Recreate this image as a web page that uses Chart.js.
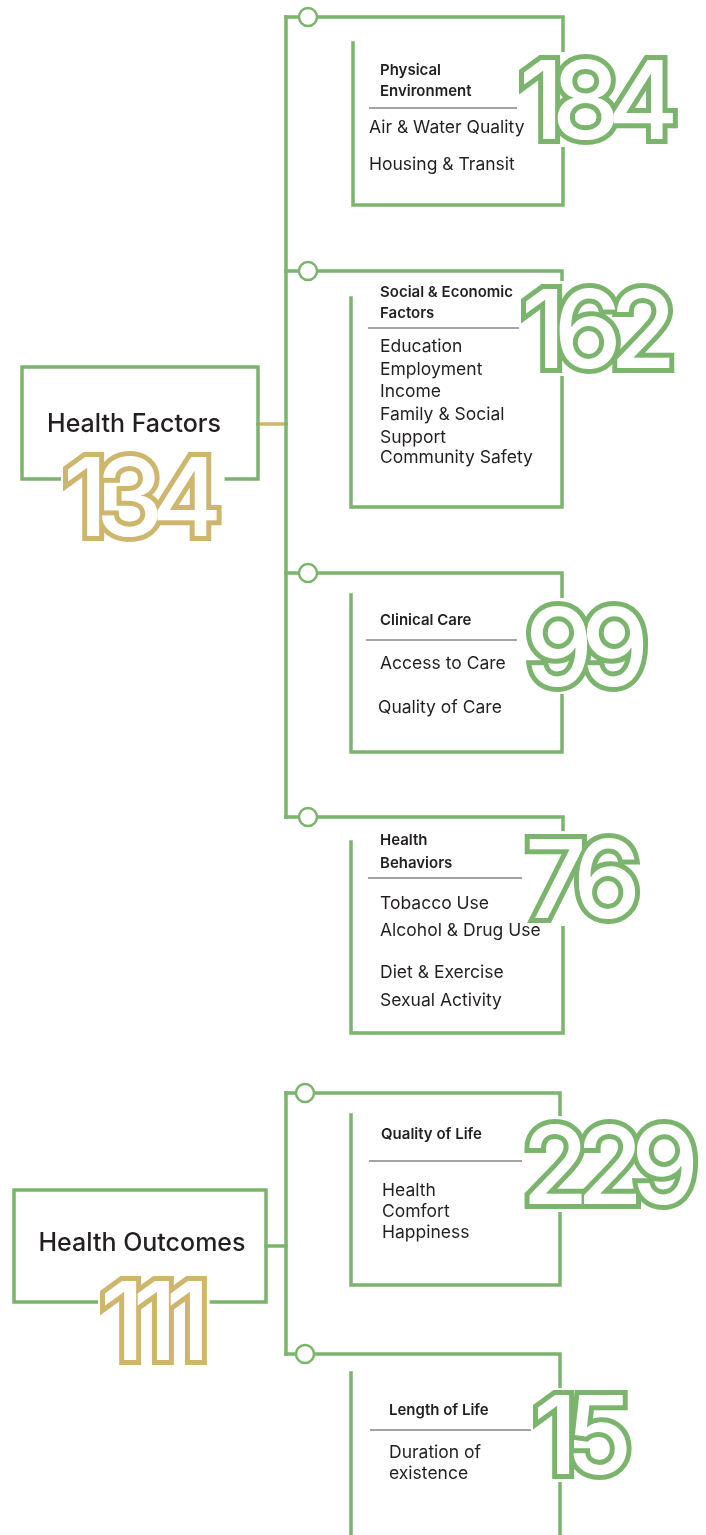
<!DOCTYPE html>
<html>
<head>
<meta charset="utf-8">
<script src="https://cdn.jsdelivr.net/npm/chart.js@4.4.1/dist/chart.umd.min.js"></script>
<style>
  html, body { margin: 0; padding: 0; background: #fff; }
  #wrap { width: 706px; height: 1535px; }
</style>
</head>
<body>
<div id="wrap"><canvas id="infographic" width="706" height="1535"></canvas></div>
<script>
// data
const groupNames = ['Health Factors', 'Health Outcomes'];
const groupCounts = [134, 111];

const categories = [
    ['Physical', 'Environment'],
    ['Social & Economic', 'Factors'],
    ['Clinical Care'],
    ['Health', 'Behaviors'],
    ['Quality of Life'],
    ['Length of Life']
];
const categoryCounts = [184, 162, 99, 76, 229, 15];
const subItems = [
    ['Air & Water Quality', 'Housing & Transit'],
    ['Education', 'Employment', 'Income', 'Family & Social', 'Support', 'Community Safety'],
    ['Access to Care', 'Quality of Care'],
    ['Tobacco Use', 'Alcohol & Drug Use', 'Diet & Exercise', 'Sexual Activity'],
    ['Health', 'Comfort', 'Happiness'],
    ['Duration of', 'existence']
];

// layout (page units = pixels of the 706 x 1535 sheet)
const GREEN = '#7bb46c';
const GOLD = '#cfb66d';
const INK = '#231f20';
const trunkX = 286;
const trunks = [[17, 817], [1093, 1354]];

const boxLayout = [
    { node: [308, 17], top: 17, right: 563, bottom: 205, left: 353, leftTop: 43, titleX: 380, titleY: [70, 91], divY: 108, divX: [369, 527], itemX: [369, 369], itemY: [128, 165], numX: 519, numY: 139 },
    { node: [308, 271], top: 271, right: 562, bottom: 507, left: 351, leftTop: 298, titleX: 380, titleY: [292, 313], divY: 328, divX: [368, 533], itemX: [380, 380, 380, 380, 380, 380], itemY: [347, 370, 392, 415, 438, 458], numX: 521, numY: 368 },
    { node: [308, 573], top: 573, right: 562, bottom: 752, left: 351, leftTop: 595, titleX: 380, titleY: [620], divY: 640, divX: [366, 517], itemX: [380, 378], itemY: [664, 708], numX: 525, numY: 686 },
    { node: [308, 817], top: 817, right: 563, bottom: 1033, left: 351, leftTop: 842, titleX: 380, titleY: [840, 863], divY: 878, divX: [368, 533], itemX: [380, 380, 380, 380], itemY: [904, 931, 973, 1001], numX: 525, numY: 918 },
    { node: [305, 1093], top: 1093, right: 560, bottom: 1285, left: 351, leftTop: 1115, titleX: 381, titleY: [1134], divY: 1161, divX: [369, 540], itemX: [382, 382, 382], itemY: [1191, 1212, 1233], numX: 522, numY: 1204 },
    { node: [305, 1354], top: 1354, right: 560, bottom: 1560, left: 351, leftTop: 1373, titleX: 389, titleY: [1410], divY: 1430, divX: [370, 543], itemX: [389, 389], itemY: [1453, 1474], numX: 533, numY: 1474 }
];

const groupLayout = [
    { box: [22, 367, 258, 479], textX: 134, textY: 424, numX: 63, numY: 536, link: [258, 286, 424], linkColor: GOLD },
    { box: [14, 1190, 266, 1302], textX: 142, textY: 1243, numX: 100, numY: 1360, link: [266, 286, 1246], linkColor: GREEN }
];

const NUM_FONT = '500 108px Inter';
const NUM_SPACING = '-12px';

function lineSet(points, color, width) {
    return {
        type: 'scatter',
        showLine: true,
        data: points.map(p => ({ x: p[0], y: p[1] })),
        borderColor: color,
        borderWidth: width,
        borderJoinStyle: 'miter',
        borderCapStyle: 'square',
        pointRadius: 0,
        tension: 0,
        clip: false
    };
}

function buildDatasets() {
    const sets = [];

    // node circles first so they are painted on top
    sets.push({
        type: 'scatter',
        data: boxLayout.map(b => ({ x: b.node[0], y: b.node[1] })),
        pointRadius: 9,
        pointHoverRadius: 9,
        pointBackgroundColor: '#fff',
        pointBorderColor: GREEN,
        pointBorderWidth: 2.5,
        clip: false
    });

    boxLayout.forEach(b => {
        sets.push(lineSet([
            [trunkX, b.top], [b.right, b.top], [b.right, b.bottom],
            [b.left, b.bottom], [b.left, b.leftTop]
        ], GREEN, 3.5));
    });

    trunks.forEach(t => sets.push(lineSet([[trunkX, t[0]], [trunkX, t[1]]], GREEN, 3.5)));

    groupLayout.forEach(g => {
        const [x1, y1, x2, y2] = g.box;
        sets.push(lineSet([[x1, y1], [x2, y1], [x2, y2], [x1, y2], [x1, y1]], GREEN, 3.5));
        sets.push(lineSet([[g.link[0], g.link[2]], [g.link[1], g.link[2]]], g.linkColor, 3.5));
    });

    return sets;
}

function drawOutlineNumber(ctx, text, px, py, color) {
    ctx.save();
    ctx.font = NUM_FONT;
    ctx.letterSpacing = NUM_SPACING;
    ctx.textAlign = 'left';
    ctx.textBaseline = 'alphabetic';
    const m = ctx.measureText(text);
    const pad = 7;
    ctx.fillStyle = '#fff';
    ctx.fillRect(px - m.actualBoundingBoxLeft - pad, py - m.actualBoundingBoxAscent - pad,
        m.actualBoundingBoxLeft + m.actualBoundingBoxRight + pad * 2,
        m.actualBoundingBoxAscent + m.actualBoundingBoxDescent + pad * 2);
    ctx.lineJoin = 'miter';
    ctx.miterLimit = 3;
    ctx.lineWidth = 10;
    ctx.strokeStyle = color;
    ctx.strokeText(text, px, py);
    ctx.fillStyle = '#fff';
    ctx.fillText(text, px, py);
    ctx.restore();
}

const textPlugin = {
    id: 'infoText',
    afterDatasetsDraw(chart) {
        const ctx = chart.ctx;
        const xs = chart.scales.x;
        const ys = chart.scales.y;
        const X = v => xs.getPixelForValue(v);
        const Y = v => ys.getPixelForValue(v);

        // dividers
        ctx.save();
        ctx.strokeStyle = '#4a4a4a';
        ctx.lineWidth = 1.2;
        boxLayout.forEach(b => {
            ctx.beginPath();
            ctx.moveTo(X(b.divX[0]), Y(b.divY));
            ctx.lineTo(X(b.divX[1]), Y(b.divY));
            ctx.stroke();
        });
        ctx.restore();

        // big outlined counts
        categoryCounts.forEach((v, i) => {
            const b = boxLayout[i];
            drawOutlineNumber(ctx, String(v), X(b.numX), Y(b.numY), GREEN);
        });
        groupCounts.forEach((v, i) => {
            const g = groupLayout[i];
            drawOutlineNumber(ctx, String(v), X(g.numX), Y(g.numY), GOLD);
        });

        ctx.save();
        ctx.fillStyle = INK;
        ctx.textBaseline = 'middle';

        // group titles
        ctx.font = '500 25px Inter';
        ctx.textAlign = 'center';
        groupNames.forEach((name, i) => {
            const g = groupLayout[i];
            ctx.fillText(name, X(g.textX), Y(g.textY));
        });

        // category titles and items
        ctx.textAlign = 'left';
        categories.forEach((lines, i) => {
            const b = boxLayout[i];
            ctx.font = '600 15px Inter';
            lines.forEach((ln, k) => ctx.fillText(ln, X(b.titleX), Y(b.titleY[k])));
            ctx.font = '400 17.5px Inter';
            subItems[i].forEach((item, k) => ctx.fillText(item, X(b.itemX[k]), Y(b.itemY[k])));
        });
        ctx.restore();
    }
};

new Chart(document.getElementById('infographic'), {
    type: 'scatter',
    data: { datasets: buildDatasets() },
    options: {
        responsive: false,
        animation: false,
        devicePixelRatio: 1,
        layout: { padding: 0, autoPadding: false },
        events: [],
        plugins: { legend: { display: false }, tooltip: { enabled: false } },
        scales: {
            x: { type: 'linear', min: 0, max: 706, display: false },
            y: { type: 'linear', min: 0, max: 1535, reverse: true, display: false }
        }
    },
    plugins: [textPlugin]
});
</script>
</body>
</html>
